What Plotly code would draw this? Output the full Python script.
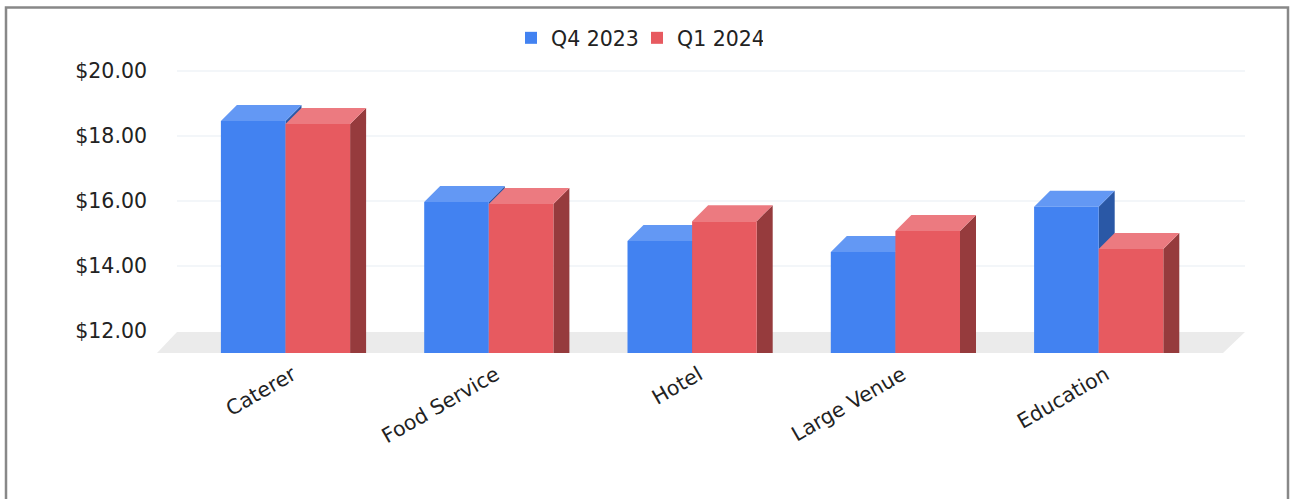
import plotly.graph_objects as go

categories = ["Caterer", "Food Service", "Hotel", "Large Venue", "Education"]
q4_2023 = [18.46, 15.97, 14.77, 14.43, 15.82]
q1_2024 = [18.37, 15.91, 15.38, 15.08, 14.52]
y_ticks = [12, 14, 16, 18, 20]

W, H = 1290, 499
L, R, T, B = 157, 1245, 60, 353
PX_PER_CAT = 203.3
PX_PER_UNIT = 32.5
X0 = 285.5  # pixel of the first category's centre
Y12 = 331.0  # pixel of value 12

x_range = [(L - X0) / PX_PER_CAT, (R - X0) / PX_PER_CAT]
y_range = [12 - (B - Y12) / PX_PER_UNIT, 12 + (Y12 - T) / PX_PER_UNIT]
BAR_W = 64.6 / PX_PER_CAT
BARGAP = 1 - 2 * BAR_W
DX = 16 / PX_PER_CAT
DY = 16 / PX_PER_UNIT
FLOOR_DX = 20 / PX_PER_CAT

BLUE = dict(front="#4282F1", top="#6398F4", side="#2A58A6")
RED = dict(front="#E75A60", top="#EC7A80", side="#963B3D")


def poly(points, color):
    path = "M" + " L".join(f"{x:.5f},{y:.5f}" for x, y in points) + " Z"
    return dict(type="path", path=path, xref="x", yref="y", fillcolor=color,
                line=dict(width=0), layer="below")


shapes = []
# floor
fl, fr = x_range[0], x_range[1] - 22 / PX_PER_CAT
shapes.append(poly([(fl, y_range[0]), (fr, y_range[0]),
                    (x_range[1], 11.97), (fl + FLOOR_DX, 11.97)], "#EBEBEB"))
# grid on the back wall
for t in y_ticks[1:]:
    shapes.append(dict(type="line", xref="x", yref="y", x0=fl + FLOOR_DX, x1=x_range[1],
                       y0=t, y1=t, line=dict(color="#F3F6F9", width=2), layer="below"))
# depth faces
for values, palette, lo in ((q4_2023, BLUE, -BAR_W), (q1_2024, RED, 0.0)):
    for i, v in enumerate(values):
        xl = i + lo
        xr = xl + BAR_W
        shapes.append(poly([(xr, y_range[0]), (xr + DX, y_range[0]),
                            (xr + DX, v + DY), (xr, v)], palette["side"]))
        shapes.append(poly([(xl, v), (xr, v), (xr + DX, v + DY), (xl + DX, v + DY)], palette["top"]))

# outer frame
shapes.append(dict(type="rect", xref="paper", yref="paper",
                   x0=(6 - L) / (R - L), x1=(1288 - L) / (R - L),
                   y0=(B - 520) / (B - T), y1=(B - 7.5) / (B - T),
                   line=dict(color="#888888", width=2.5), fillcolor="rgba(0,0,0,0)", layer="below"))

fig = go.Figure()
fig.add_bar(name="Q4 2023", x=categories, y=q4_2023, marker=dict(color=BLUE["front"], line=dict(width=0)))
fig.add_bar(name="Q1 2024", x=categories, y=q1_2024, marker=dict(color=RED["front"], line=dict(width=0)))

fig.update_layout(
    width=W, height=H, barmode="group", bargap=BARGAP, bargroupgap=0,
    margin=dict(l=L, r=W - R, t=T, b=H - B, autoexpand=False),
    paper_bgcolor="white", plot_bgcolor="rgba(0,0,0,0)",
    font=dict(family="DejaVu Sans", size=20.5, color="#222222"),
    shapes=shapes, hovermode=False,
    legend=dict(orientation="h", x=(511 - L) / (R - L), xanchor="left", y=(B - 18) / (B - T), yanchor="top",
                font=dict(size=20.5), bgcolor="rgba(0,0,0,0)", entrywidth=81, entrywidthmode="pixels",
                itemclick=False),
    xaxis=dict(type="category", range=x_range, tickangle=-30, showgrid=False, zeroline=False,
               showline=False, ticks="", automargin=False, ticklabelstandoff=5, ticklabelshift=7),
    yaxis=dict(range=y_range, tickvals=y_ticks, tickformat="$.2f", showgrid=False, zeroline=False,
               showline=False, ticks="", automargin=False, ticklabelstandoff=9),
)
fig.write_html("out.html", config=dict(displayModeBar=False),
               post_script="document.body.style.margin='0';")
